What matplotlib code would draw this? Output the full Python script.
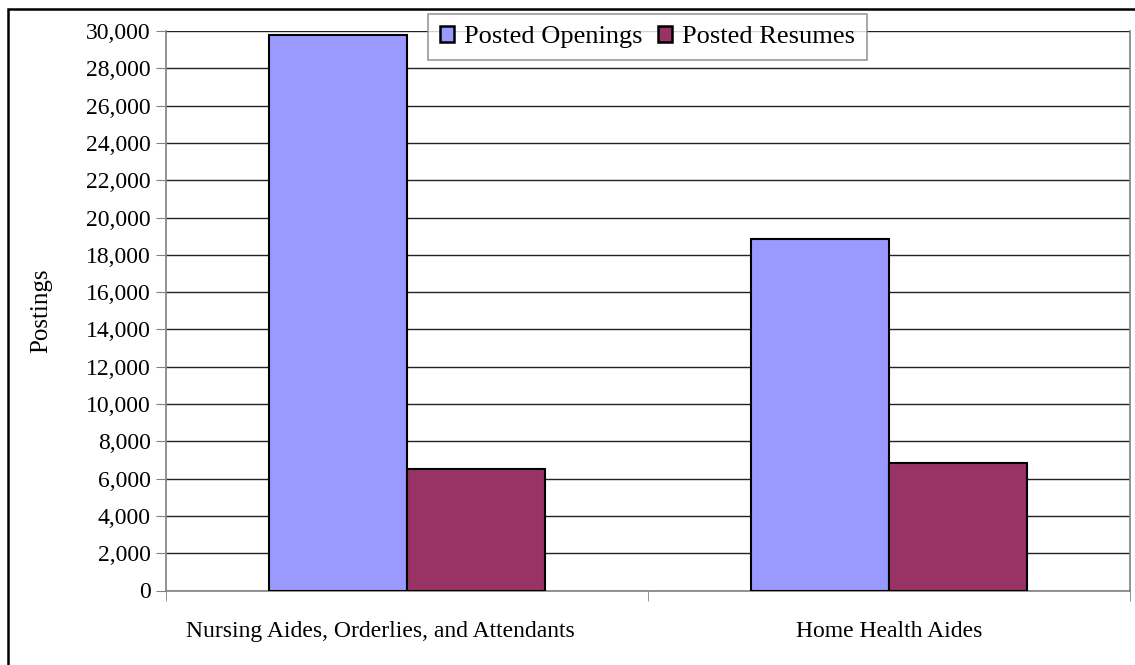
import matplotlib
matplotlib.use("Agg")
import matplotlib.pyplot as plt
import matplotlib.transforms as mtransforms
from matplotlib.patches import Rectangle
from matplotlib.ticker import FuncFormatter, MultipleLocator, FixedLocator
import numpy as np

categories = ["Nursing Aides, Orderlies, and Attendants", "Home Health Aides"]
series_names = ["Posted Openings", "Posted Resumes"]
openings = [29800, 18850]
resumes = [6500, 6820]
colors = ["#9999FF", "#993366"]

plt.rcParams['font.family'] = ['Liberation Serif', 'DejaVu Serif']

W, H = 1135, 665
fig = plt.figure(figsize=(W / 100, H / 100), dpi=100)
fig.patches.append(Rectangle((8 / W, 1 - 680 / H), (1150 - 8) / W, (680 - 9) / H,
                             transform=fig.transFigure, fill=False, edgecolor='black',
                             linewidth=1.8, zorder=0))

left, right, top, bottom = 166, 1130, 31, 590.5
ax = fig.add_axes([left / W, 1 - bottom / H, (right - left) / W, (bottom - top) / H])

x = np.arange(len(categories))
bw = 0.2857
ax.bar(x - bw / 2, openings, bw, color=colors[0], edgecolor='black', linewidth=1.5,
       label=series_names[0], zorder=3)
ax.bar(x + bw / 2, resumes, bw, color=colors[1], edgecolor='black', linewidth=1.5,
       label=series_names[1], zorder=3)

ax.set_xlim(-0.5, len(categories) - 0.5)
ax.set_ylim(0, 30000)
ax.yaxis.set_major_locator(MultipleLocator(2000))
ax.yaxis.set_major_formatter(FuncFormatter(lambda v, p: f"{int(v):,}"))
ax.grid(axis='y', color='#222222', linewidth=1, zorder=0)
ax.set_axisbelow(True)

ax.set_xticks(x)
ax.set_xticklabels(categories)
ax.xaxis.set_minor_locator(FixedLocator(np.arange(-0.5, len(categories), 1.0)))
ax.tick_params(axis='x', which='major', length=0, pad=22, labelsize=17)
ax.tick_params(axis='x', which='minor', length=7, color='#808080', direction='out')
ax.tick_params(axis='y', length=7, color='#808080', labelsize=17, pad=4)
lbl0 = ax.get_xticklabels()[0]
lbl0.set_transform(lbl0.get_transform() + mtransforms.ScaledTranslation(-0.27, 0, fig.dpi_scale_trans))

for s in ['left', 'bottom', 'right']:
    ax.spines[s].set_color('#808080')
    ax.spines[s].set_linewidth(1.2)
ax.spines['top'].set_visible(False)

ax.set_ylabel("Postings", fontsize=18)
ax.yaxis.set_label_coords((52 - left) / (right - left), 0.5)

leg = fig.legend(loc='upper left', bbox_to_anchor=(428 / W, 1 - 14 / H), ncol=2,
                 fontsize=19, frameon=True, fancybox=False, edgecolor='#808080',
                 handlelength=0.55, handleheight=0.55, handletextpad=0.35,
                 columnspacing=0.6, borderpad=0.45, borderaxespad=0)
leg.get_frame().set_linewidth(1.2)
for h in leg.legend_handles:
    h.set_linewidth(1.8)

fig.savefig("out.png", dpi=100)
